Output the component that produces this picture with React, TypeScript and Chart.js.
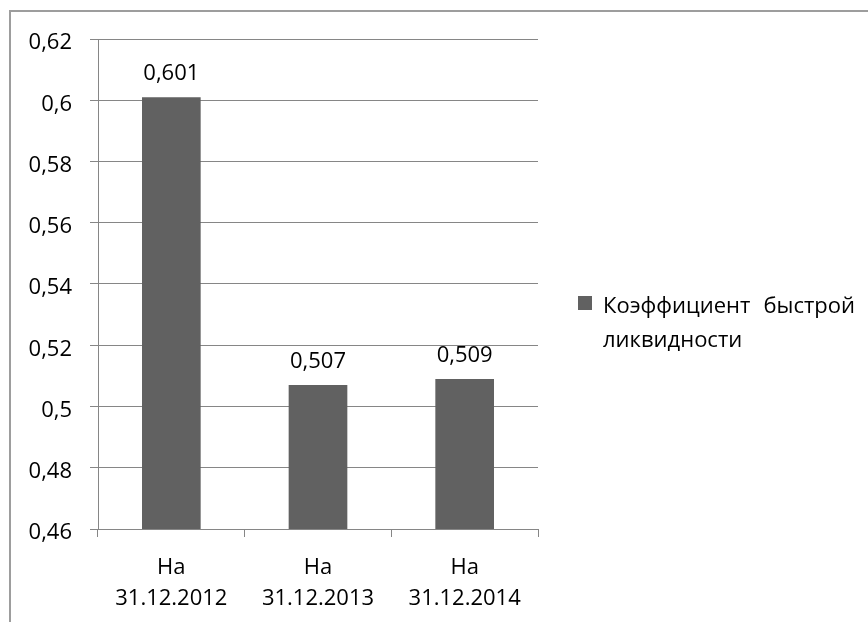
import React, { useEffect, useRef } from 'react';
import { Chart, registerables } from 'chart.js';

Chart.register(...registerables);

const categories: string[][] = [
  ['На', '31.12.2012'],
  ['На', '31.12.2013'],
  ['На', '31.12.2014'],
];
const values: number[] = [0.601, 0.507, 0.509];
const seriesName = 'Коэффициент быстрой ликвидности';
const legendLines: string[] = ['Коэффициент быстрой', 'ликвидности'];
const yMin = 0.46;
const yMax = 0.62;
const yStep = 0.02;

const FONT = '"Open Sans", "Liberation Sans", sans-serif';
const FONT_SIZE = 22;
const BAR_COLOR = '#616161';
const GRID_COLOR = '#868686';
const FRAME_COLOR = '#9d9d9d';

const fmt = (v: number, digits: number) =>
  String(parseFloat(v.toFixed(digits))).replace('.', ',');

const framePlugin = {
  id: 'frame',
  beforeDraw(chart: any) {
    const ctx = chart.ctx;
    ctx.save();
    ctx.strokeStyle = FRAME_COLOR;
    ctx.lineWidth = 2;
    ctx.beginPath();
    ctx.moveTo(10, chart.height);
    ctx.lineTo(10, 11);
    ctx.lineTo(chart.width, 11);
    ctx.stroke();
    ctx.restore();
  },
};

const dataLabelPlugin = {
  id: 'dataLabels',
  afterDatasetsDraw(chart: any) {
    const ctx = chart.ctx;
    const meta = chart.getDatasetMeta(0);
    const data = chart.data.datasets[0].data as number[];
    ctx.save();
    ctx.font = `${FONT_SIZE}px ${FONT}`;
    ctx.fillStyle = '#000000';
    ctx.textAlign = 'center';
    ctx.textBaseline = 'alphabetic';
    meta.data.forEach((el: any, i: number) => {
      ctx.fillText(fmt(data[i], 3), el.x, el.y - 17);
    });
    ctx.restore();
  },
};

const legendPlugin = {
  id: 'customLegend',
  afterDraw(chart: any) {
    const ctx = chart.ctx;
    const area = chart.chartArea;
    const color = chart.data.datasets[0].backgroundColor;
    const boxX = area.right + 40;
    const boxY = 296;
    ctx.save();
    ctx.fillStyle = color;
    ctx.fillRect(boxX, boxY, 14, 14);
    ctx.font = `${FONT_SIZE}px ${FONT}`;
    ctx.fillStyle = '#000000';
    ctx.textAlign = 'left';
    ctx.textBaseline = 'alphabetic';
    const textX = boxX + 25;
    const maxW = 252;
    legendLines.forEach((line, li) => {
      const y = 313 + li * 34;
      const words = line.split(' ');
      if (li < legendLines.length - 1 && words.length > 1) {
        const widths = words.map((w) => ctx.measureText(w).width);
        const total = widths.reduce((a, b) => a + b, 0);
        const natural = ctx.measureText(line).width;
        const target = Math.max(maxW, natural);
        const gap = (target - total) / (words.length - 1);
        let x = textX;
        words.forEach((w, wi) => {
          ctx.fillText(w, x, y);
          x += widths[wi] + gap;
        });
      } else {
        ctx.fillText(line, textX, y);
      }
    });
    ctx.restore();
  },
};

export default function App() {
  const canvasRef = useRef<HTMLCanvasElement | null>(null);

  useEffect(() => {
    if (!canvasRef.current) return;
    Chart.defaults.font.family = FONT;
    Chart.defaults.font.size = FONT_SIZE;
    Chart.defaults.color = '#000000';
    const chart = new Chart(canvasRef.current, {
      type: 'bar',
      data: {
        labels: categories,
        datasets: [
          {
            label: seriesName,
            data: values,
            backgroundColor: BAR_COLOR,
            borderWidth: 0,
            categoryPercentage: 1,
            barPercentage: 0.4,
          },
        ],
      },
      options: {
        animation: false,
        responsive: false,
        maintainAspectRatio: false,
        devicePixelRatio: 1,
        layout: { padding: { left: 0, top: 39, right: 330, bottom: 0 } },
        plugins: {
          legend: { display: false },
          tooltip: { enabled: false },
          title: { display: false },
        },
        scales: {
          x: {
            offset: true,
            grid: {
              offset: true,
              drawOnChartArea: false,
              drawTicks: true,
              tickLength: 8,
              color: GRID_COLOR,
              lineWidth: 1,
            },
            border: { color: GRID_COLOR, width: 1 },
            ticks: {
              color: '#000000',
              padding: 15,
              maxRotation: 0,
              autoSkip: false,
              font: { size: FONT_SIZE, lineHeight: 31 / FONT_SIZE },
            },
            afterFit(scale: any) {
              scale.height = 93;
            },
          },
          y: {
            min: yMin,
            max: yMax,
            grid: {
              color: GRID_COLOR,
              lineWidth: 1,
              drawTicks: true,
              tickLength: 8,
            },
            border: { color: GRID_COLOR, width: 1 },
            ticks: {
              stepSize: yStep,
              color: '#000000',
              padding: 18,
              labelOffset: 4,
              font: { size: FONT_SIZE },
              callback: (v: any) => fmt(Number(v), 2),
            },
            afterFit(scale: any) {
              scale.width = 98;
            },
          },
        },
      },
      plugins: [framePlugin, dataLabelPlugin, legendPlugin],
    } as any);
    return () => chart.destroy();
  }, []);

  return (
    <div
      style={{
        position: 'fixed',
        left: 0,
        top: 0,
        width: 868,
        height: 622,
        background: '#ffffff',
      }}
    >
      <canvas
        ref={canvasRef}
        width={868}
        height={622}
        style={{ width: 868, height: 622, display: 'block' }}
      />
    </div>
  );
}
